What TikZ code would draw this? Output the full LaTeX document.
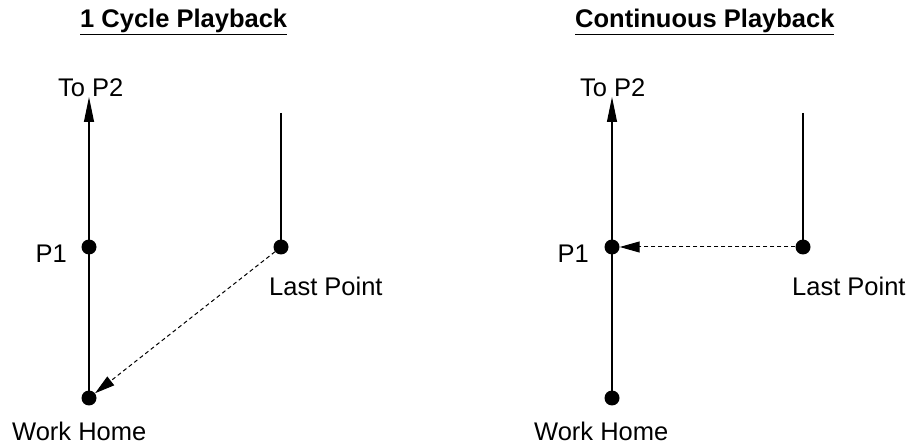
\documentclass[tikz,border=0pt]{standalone}
\usepackage{fontspec}
\setmainfont{Liberation Sans}
\usetikzlibrary{arrows.meta}

\tikzset{
        dot/.style={circle,fill=black,inner sep=0pt,minimum size=15pt},
        txt/.style={inner sep=0pt,font=\fontsize{25.5}{30}\selectfont},
        ttl/.style={inner sep=0pt,font=\bfseries\fontsize{25.5}{30}\selectfont},
        path/.style={line width=1.1pt},
        jump/.style={line width=1pt,dash pattern=on 4pt off 3pt},
        tip/.style={-{Triangle[length=25pt,width=10pt]}},
        tipb/.style={-{Triangle[length=20pt,width=11pt]}}
}

\begin{document}
\begin{tikzpicture}[x=1pt,y=-1pt]
        \useasboundingbox (0,0) rectangle (911,446);
        % 1 cycle
        \node (t1) [ttl,anchor=base west] at (80,28) {\underline{1 Cycle Playback}};
        \coordinate (top1) at (89,97);
        \coordinate (up1) at (281,113);
        \node (p1a) [dot] at (89,247) {};
        \node (last1) [dot] at (281,247) {};
        \node (home1) [dot] at (89,398) {};
        \node (lp2a) [txt,anchor=base west] at (58,97) {To P2};
        \node (lp1a) [txt,anchor=base east] at (67,263) {P1};
        \node (llast1) [txt,anchor=base west] at (269,296) {Last Point};
        \node (lhome1) [txt,anchor=base west] at (12,441) {Work Home};
        \draw [path,tip] (home1.center) -- (top1);
        \draw [path] (up1) -- (last1.center);
        \draw [jump,tipb] (last1) -- (home1);
        % continuous
        \node (t2) [ttl,anchor=base west] at (575,28) {\underline{Continuous Playback}};
        \coordinate (top2) at (612,97);
        \coordinate (up2) at (803,113);
        \node (p1b) [dot] at (612,247) {};
        \node (last2) [dot] at (803,247) {};
        \node (home2) [dot] at (612,398) {};
        \node (lp2b) [txt,anchor=base west] at (580,97) {To P2};
        \node (lp1b) [txt,anchor=base east] at (589,263) {P1};
        \node (llast2) [txt,anchor=base west] at (792,296) {Last Point};
        \node (lhome2) [txt,anchor=base west] at (534,441) {Work Home};
        \draw [path,tip] (home2.center) -- (top2);
        \draw [path] (up2) -- (last2.center);
        \draw [jump,tipb] (last2) -- (p1b);
\end{tikzpicture}
\end{document}
